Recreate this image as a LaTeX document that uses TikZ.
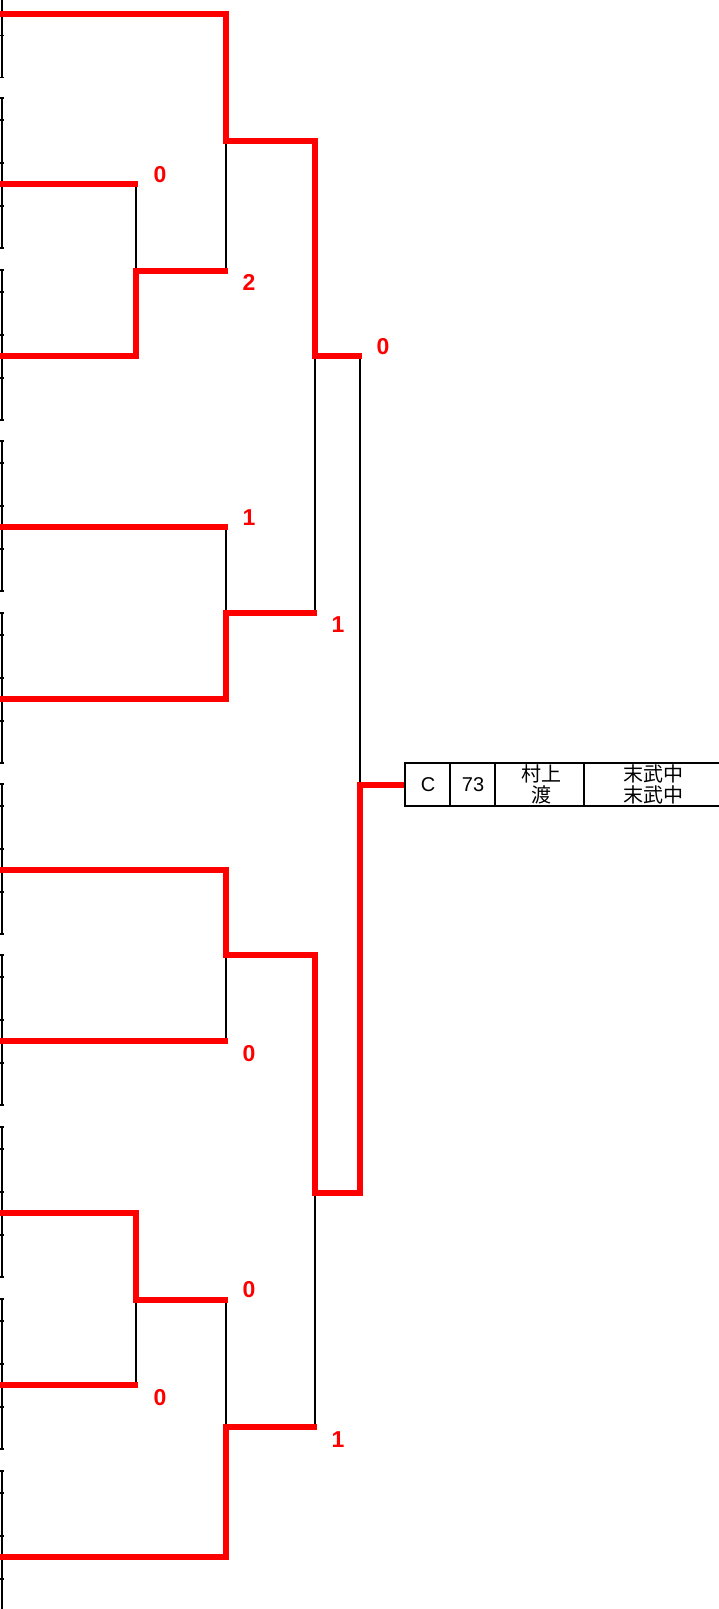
\documentclass[tikz,border=0pt]{standalone}
\usepackage{fontspec}
\setmainfont{Liberation Sans}
\newfontfamily\cjk{Noto Sans CJK JP}
\begin{document}
\begin{tikzpicture}[x=1pt,y=-1pt,
  win/.style={draw=red, line width=6pt, line join=miter, line cap=butt},
  winend/.style={win, shorten >=-2pt},
  lose/.style={draw=black, line width=2pt},
  edgeline/.style={draw=black, line width=2pt},
  cellbox/.style={draw=black, line width=2pt},
  score/.style={text=red, font=\bfseries\fontsize{23}{26}\selectfont, inner sep=0pt},
  celltext/.style={font=\fontsize{20}{22}\selectfont, inner sep=0pt},
  cjktext/.style={font=\cjk\fontsize{20}{22}\selectfont, inner sep=0pt}]
\path[use as bounding box] (0,0) rectangle (719,1609);
\clip (0,0) rectangle (719,1609);
% left edge remnants of entry boxes
\foreach \y in {13.5,184,356,527,699,870,1041,1213,1385,1557}{
  \draw[edgeline] (2,\y-86) -- (2,\y+64);
  \foreach \d in {-86,-64,-21,22,64}{
    \draw[black, line width=1.6pt] (0,\y+\d) -- (4,\y+\d);
  }
}
% coordinates
\coordinate (L1) at (0,13.5);
\coordinate (L2) at (0,184);
\coordinate (L3) at (0,356);
\coordinate (L4) at (0,527);
\coordinate (L5) at (0,699);
\coordinate (L6) at (0,870);
\coordinate (L7) at (0,1041);
\coordinate (L8) at (0,1213);
\coordinate (L9) at (0,1385);
\coordinate (L10) at (0,1557);
\coordinate (R1a) at (136,271);
\coordinate (R1b) at (136,1300);
\coordinate (Q1) at (226,141);
\coordinate (Q2) at (226,613);
\coordinate (Q3) at (226,955);
\coordinate (Q4) at (226,1427);
\coordinate (S1) at (315,356);
\coordinate (S2) at (315,1193);
\coordinate (F) at (360,785);
% result box
\node[cellbox, minimum width=45pt, minimum height=43pt, inner sep=0pt] (cellA) at (427.5,784.5) {};
\node[cellbox, minimum width=45pt, minimum height=43pt, inner sep=0pt] (cellB) at (472.5,784.5) {};
\node[cellbox, minimum width=89pt, minimum height=43pt, inner sep=0pt] (cellC) at (539.5,784.5) {};
\node[cellbox, minimum width=160pt, minimum height=43pt, inner sep=0pt] (cellD) at (664,784.5) {};
\node[celltext] (tC) at (428,785) {C};
\node[celltext] (t73) at (473,785) {73};
\node[cjktext] (tname1) at (541,774) {村上};
\node[cjktext] (tname2) at (541,795) {渡};
\node[cjktext] (tteam1) at (653,774) {末武中};
\node[cjktext] (tteam2) at (653,795) {末武中};
% losing (black) segments
\draw[lose] (L2 -| R1a) -- (R1a);
\draw[lose] (Q1) -- (R1a -| Q1);
\draw[lose] (L4 -| Q2) -- (Q2);
\draw[lose] (S1) -- (Q2 -| S1);
\draw[lose] (S1 -| F) -- (F);
\draw[lose] (Q3) -- (L7 -| Q3);
\draw[lose] (R1b) -- (L9 -| R1b);
\draw[lose] (R1b -| Q4) -- (Q4);
\draw[lose] (S2) -- (Q4 -| S2);
% red paths
\draw[winend] (L1) -| (Q1) -| (S1) -- (S1 -| F);
\draw[winend] (L2) -- (L2 -| R1a);
\draw[winend] (L3) -| (R1a) -- (R1a -| Q1);
\draw[winend] (L4) -- (L4 -| Q2);
\draw[winend] (L5) -| (Q2) -- (Q2 -| S1);
\draw[win] (L6) -| (Q3) -| (S2) -| (F) -- (F -| cellA.west);
\draw[winend] (L7) -- (L7 -| Q3);
\draw[winend] (L8) -| (R1b) -- (R1b -| Q4);
\draw[winend] (L9) -- (L9 -| R1b);
\draw[winend] (L10) -| (Q4) -- (Q4 -| S2);
% scores
\node[score] (s1) at (160,175) {0};
\node[score] (s2) at (249,282) {2};
\node[score] (s3) at (383,347) {0};
\node[score] (s4) at (249,518) {1};
\node[score] (s5) at (338,625) {1};
\node[score] (s6) at (249,1054) {0};
\node[score] (s7) at (249,1290) {0};
\node[score] (s8) at (160,1398) {0};
\node[score] (s9) at (338,1440) {1};
\end{tikzpicture}
\end{document}
